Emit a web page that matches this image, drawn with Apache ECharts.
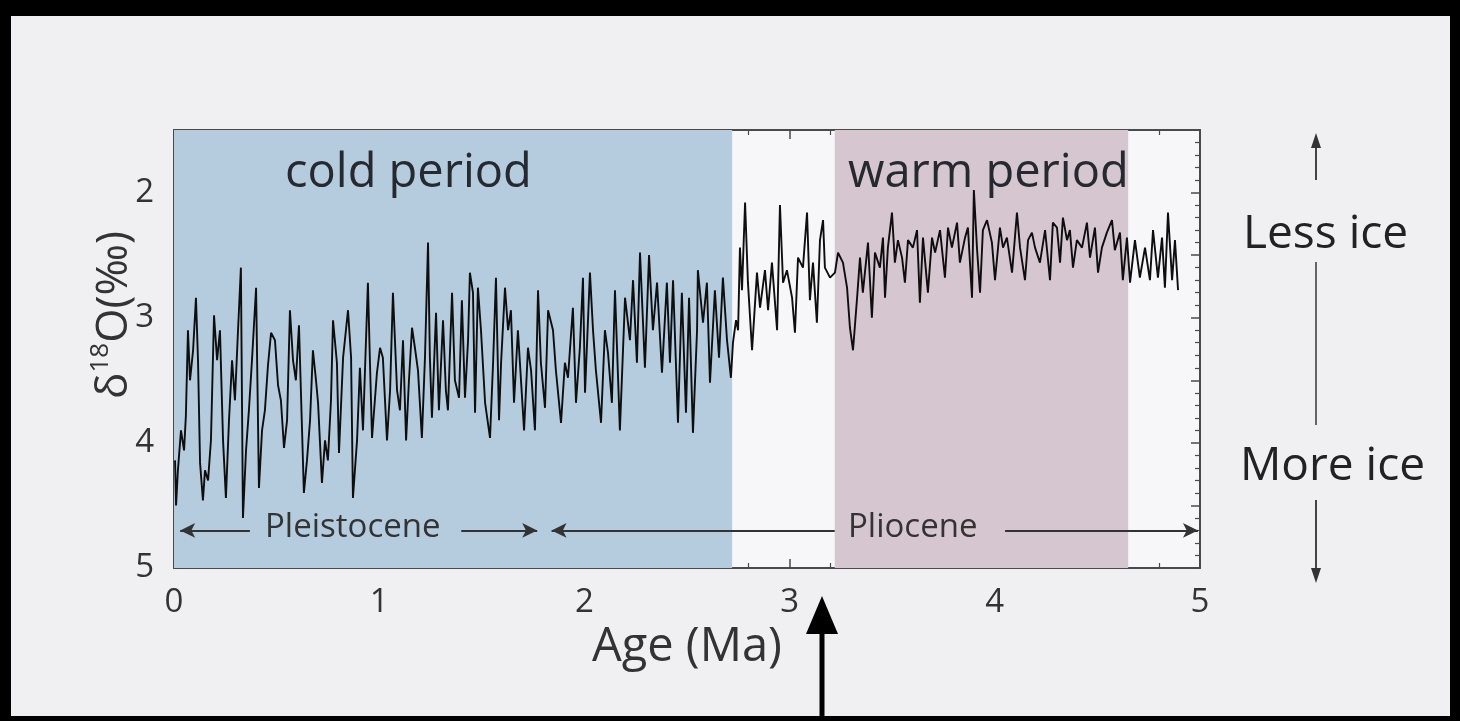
<!DOCTYPE html>
<html>
<head>
<meta charset="utf-8">
<script src="https://cdn.jsdelivr.net/npm/echarts@6/dist/echarts.min.js"></script>
<style>
html,body{margin:0;padding:0;background:#f0f0f2;}
#chart{width:1460px;height:721px;}
</style>
</head>
<body>
<div id="chart"></div>
<script>
// Age (Ma)
const ages = [0.005,0.010,0.019,0.034,0.049,0.058,0.068,0.078,0.093,0.107,0.117,0.127,0.141,0.151,0.166,0.180,0.195,0.210,0.224,0.239,0.253,0.268,0.283,0.297,0.312,0.326,0.336,0.351,0.365,0.380,0.400,0.414,0.429,0.443,0.458,0.473,0.492,0.507,0.521,0.536,0.551,0.565,0.580,0.594,0.609,0.624,0.633,0.648,0.663,0.677,
0.692,0.702,0.721,0.736,0.750,0.765,0.775,0.794,0.804,0.824,0.848,0.863,0.872,0.892,0.906,0.921,0.945,0.955,0.965,0.989,1.004,1.018,1.038,1.053,1.067,1.087,1.101,1.116,1.131,1.145,1.160,1.174,1.189,1.208,1.223,1.238,1.247,1.257,1.277,1.291,1.311,1.325,1.335,1.355,1.369,1.389,1.403,
1.418,1.433,1.442,1.457,1.467,1.481,1.496,1.516,1.540,1.555,1.569,1.584,1.594,1.613,1.628,1.642,1.657,1.676,1.691,1.706,1.725,1.740,1.759,1.774,1.788,1.808,1.823,1.847,1.861,1.886,1.905,1.920,1.944,1.959,1.978,1.993,2.003,2.027,2.042,2.056,2.081,2.100,
2.115,2.134,2.149,2.173,2.198,2.222,2.237,2.256,2.271,2.295,2.315,2.334,2.354,2.378,2.402,2.417,2.432,2.456,2.475,2.495,2.510,2.529,2.549,2.553,2.578,2.597,2.612,2.636,2.656,2.675,2.695,2.714,2.724,2.739,
2.749,2.758,2.768,2.783,2.797,2.817,2.841,2.856,2.880,2.895,2.914,2.939,2.953,2.968,2.987,3.012,3.026,3.041,3.065,3.085,3.099,3.114,3.133,3.148,3.163,3.172,3.197,3.221,3.236,3.260,3.280,3.294,3.309,3.328,3.343,3.357,3.382,3.401,3.416,3.440,
3.455,3.465,3.479,3.499,3.513,3.528,3.548,3.562,3.577,3.601,3.621,3.635,3.650,3.674,3.694,3.709,3.733,3.757,3.772,3.791,3.816,3.830,3.855,3.869,3.889,3.898,3.913,3.928,3.942,3.962,3.986,4.001,4.025,4.040,4.059,4.084,4.108,4.123,4.147,4.162,
4.181,4.196,4.220,4.245,4.269,4.283,4.303,4.318,4.332,4.352,4.366,4.381,4.400,4.425,4.449,4.464,4.488,4.503,4.522,4.546,4.571,4.585,4.610,4.624,4.644,4.659,4.683,4.707,4.732,4.756,4.771,4.795,4.815,4.829,4.844,4.864,4.878,4.893];
// delta 18O (per mil)
const d18O = [4.14,4.50,4.22,3.90,4.06,3.78,3.10,3.50,3.26,2.84,3.34,4.16,4.46,4.22,4.30,3.98,2.98,3.34,3.10,3.98,4.44,3.82,3.34,3.66,3.10,2.60,4.60,4.06,3.74,3.34,2.76,4.36,3.90,3.74,3.38,3.12,3.18,3.54,3.66,4.04,3.82,2.94,3.34,3.50,3.06,3.90,4.40,4.14,3.82,3.26,
3.50,3.68,4.32,3.98,4.14,3.66,3.02,3.36,4.08,3.32,2.94,3.32,4.44,3.98,3.40,3.90,2.72,3.36,3.96,3.44,3.24,3.32,3.98,3.58,2.80,3.58,3.74,3.18,3.98,3.50,3.08,3.24,3.42,3.96,3.32,2.40,3.32,3.80,2.96,3.74,3.02,3.58,3.74,2.80,3.50,3.64,2.86,
3.64,3.18,2.64,2.80,3.76,2.76,3.10,3.68,3.96,3.36,2.68,3.82,3.36,2.76,3.10,2.94,3.68,3.10,3.50,3.90,3.24,3.42,3.90,2.78,3.36,3.72,2.94,3.10,3.42,3.84,3.36,3.48,2.92,3.68,3.24,2.68,3.60,2.64,3.10,3.42,3.84,3.10,
3.28,3.68,2.78,3.90,2.84,3.18,2.70,3.36,2.48,3.40,2.50,3.10,2.72,3.44,2.72,3.36,2.70,3.84,2.80,3.76,2.84,3.92,3.10,2.62,3.04,2.72,3.52,2.78,3.32,2.68,3.18,3.48,3.20,3.02,
3.10,2.44,2.78,2.08,2.72,3.26,2.64,2.92,2.62,2.94,2.56,3.10,2.10,2.72,2.62,2.84,3.12,2.52,2.60,2.16,2.86,2.56,3.04,2.38,2.22,2.60,2.68,2.64,2.48,2.56,2.76,3.08,3.26,2.86,2.52,2.80,2.40,3.00,2.48,2.60,
2.36,2.84,2.44,2.16,2.56,2.38,2.52,2.72,2.38,2.44,2.30,2.88,2.36,2.80,2.36,2.48,2.30,2.68,2.28,2.44,2.24,2.56,2.36,2.28,2.84,1.98,2.44,2.80,2.30,2.22,2.40,2.70,2.28,2.44,2.36,2.64,2.16,2.44,2.70,2.38,
2.32,2.44,2.56,2.30,2.70,2.24,2.28,2.56,2.20,2.38,2.30,2.60,2.38,2.44,2.24,2.52,2.28,2.64,2.44,2.32,2.22,2.46,2.32,2.70,2.36,2.72,2.38,2.68,2.44,2.70,2.30,2.68,2.36,2.76,2.16,2.70,2.38,2.78];

const xTicks = [0, 1, 2, 3, 4, 5];
const yTicks = [2, 3, 4, 5];
const coldPeriod = [0, 2.72];
const warmPeriod = [3.22, 4.65];
const pleistoceneArrows = [[0.03, 0.37], [1.40, 1.77]];
const plioceneArrows = [[1.84, 3.22], [4.05, 4.99]];
const epochLevel = 4.70;

const FONT = 'Open Sans';
const chart = echarts.init(document.getElementById('chart'));

const seriesData = ages.map((a, i) => [a, d18O[i]]);

function arrowPair(r, leftHead, rightHead) {
  return [
    {coord: [r[0], epochLevel], symbol: leftHead ? 'arrow' : 'none'},
    {coord: [r[1], epochLevel], symbol: rightHead ? 'arrow' : 'none'}
  ];
}

const axisColor = '#4a4a4a';
const baseX = {
  type: 'value', min: 0, max: 5, interval: 1,
  axisLine: {show: true, onZero: false, lineStyle: {color: axisColor, width: 2}},
  axisTick: {show: true, inside: true, length: 9, lineStyle: {color: axisColor, width: 1.5}},
  minorTick: {show: true, splitNumber: 5, length: 5, lineStyle: {color: axisColor, width: 1.2}},
  splitLine: {show: false}, minorSplitLine: {show: false}
};
const baseY = {
  type: 'value', min: 1.5, max: 5, interval: 0.5, inverse: true,
  axisLine: {show: true, onZero: false, lineStyle: {color: axisColor, width: 2}},
  axisTick: {show: true, inside: true, length: 9, lineStyle: {color: axisColor, width: 1.5}},
  minorTick: {show: true, splitNumber: 5, length: 5, lineStyle: {color: axisColor, width: 1.2}},
  splitLine: {show: false}, minorSplitLine: {show: false}
};

const option = {
  backgroundColor: '#f0f0f2',
  animation: false,
  grid: {left: 174, right: 260, top: 130, bottom: 153, show: true, backgroundColor: '#f7f7f9', borderWidth: 0},
  xAxis: [
    Object.assign({}, baseX, {
      position: 'bottom',
      axisLabel: {show: true, fontFamily: FONT, fontSize: 33, color: '#333', margin: 18,
        formatter: v => xTicks.includes(v) ? String(v) : ''},
      name: 'Age (Ma)', nameLocation: 'middle', nameGap: 50,
      nameTextStyle: {fontFamily: FONT, fontSize: 47, color: '#333'}
    }),
    Object.assign({}, baseX, {position: 'top', axisLabel: {show: false}})
  ],
  yAxis: [
    Object.assign({}, baseY, {
      position: 'left',
      axisLabel: {show: true, fontFamily: FONT, fontSize: 33, color: '#333', margin: 20,
        formatter: v => yTicks.includes(v) ? String(v) : ''}
    }),
    Object.assign({}, baseY, {position: 'right', axisLabel: {show: false}})
  ],
  series: [{
    type: 'line',
    data: seriesData,
    symbol: 'none',
    lineStyle: {color: '#0e0e0e', width: 1.9},
    z: 5,
    markArea: {
      silent: true,
      data: [
        [{xAxis: coldPeriod[0], itemStyle: {color: 'rgb(181,204,223)'}}, {xAxis: coldPeriod[1]}],
        [{xAxis: warmPeriod[0], itemStyle: {color: 'rgb(214,198,207)'}}, {xAxis: warmPeriod[1]}]
      ]
    },
    markLine: {
      silent: true,
      symbolSize: [11, 15],
      label: {show: false},
      lineStyle: {color: '#333', width: 2, type: 'solid'},
      data: [
        arrowPair(pleistoceneArrows[0], true, false),
        arrowPair(pleistoceneArrows[1], false, true),
        arrowPair(plioceneArrows[0], true, false),
        arrowPair(plioceneArrows[1], false, true)
      ]
    }
  }],
  graphic: [
    {type: 'text', z: 100, left: 285, top: 150, style: {text: 'cold period', fontFamily: FONT, fontSize: 47, fill: '#262a30'}},
    {type: 'text', z: 100, left: 848, top: 150, style: {text: 'warm period', fontFamily: FONT, fontSize: 47, fill: '#262a30'}},
    {type: 'text', z: 100, left: 265, top: 511, style: {text: 'Pleistocene', fontFamily: FONT, fontSize: 33, fill: '#333'}},
    {type: 'text', z: 100, left: 848, top: 511, style: {text: 'Pliocene', fontFamily: FONT, fontSize: 33, fill: '#333'}},
    {type: 'text', z: 100, left: 1243, top: 212, style: {text: 'Less ice', fontFamily: FONT, fontSize: 46, fill: '#222'}},
    {type: 'text', z: 100, left: 1240, top: 444, style: {text: 'More ice', fontFamily: FONT, fontSize: 46, fill: '#222'}},
    {type: 'text', z: 100, x: 112, y: 315, rotation: Math.PI / 2,
      style: {text: '{a|δ}{s|18}{a|O(‰)}', align: 'center', verticalAlign: 'middle',
        rich: {a: {fontFamily: FONT, fontSize: 44, fill: '#333', lineHeight: 48, verticalAlign: 'bottom'},
               s: {fontFamily: FONT, fontSize: 26, fill: '#333', lineHeight: 48, verticalAlign: 'top'}}}},
    // ice arrows
    {type: 'line', z: 100, shape: {x1: 1316, y1: 180, x2: 1316, y2: 146}, style: {stroke: '#444', lineWidth: 2}},
    {type: 'polygon', z: 100, shape: {points: [[1316, 133], [1311, 148], [1321, 148]]}, style: {fill: '#333'}},
    {type: 'line', z: 100, shape: {x1: 1316, y1: 262, x2: 1316, y2: 425}, style: {stroke: '#666', lineWidth: 2}},
    {type: 'line', z: 100, shape: {x1: 1316, y1: 500, x2: 1316, y2: 570}, style: {stroke: '#444', lineWidth: 2}},
    {type: 'polygon', z: 100, shape: {points: [[1316, 583], [1311, 568], [1321, 568]]}, style: {fill: '#333'}},
    // big black pointer
    {type: 'line', z: 100, shape: {x1: 822, y1: 721, x2: 822, y2: 625}, style: {stroke: '#000', lineWidth: 5}},
    {type: 'polygon', z: 100, shape: {points: [[822, 596], [806, 634], [838, 634]]}, style: {fill: '#000'}},
    // photo frame
    {type: 'rect', z: 100, shape: {x: 0, y: 0, width: 1460, height: 16}, style: {fill: '#000'}},
    {type: 'rect', z: 100, shape: {x: 0, y: 0, width: 11, height: 721}, style: {fill: '#000'}},
    {type: 'rect', z: 100, shape: {x: 1450, y: 0, width: 10, height: 721}, style: {fill: '#000'}},
    {type: 'rect', z: 100, shape: {x: 0, y: 716, width: 1460, height: 5}, style: {fill: '#000'}}
  ]
};
chart.setOption(option);
</script>
</body>
</html>
